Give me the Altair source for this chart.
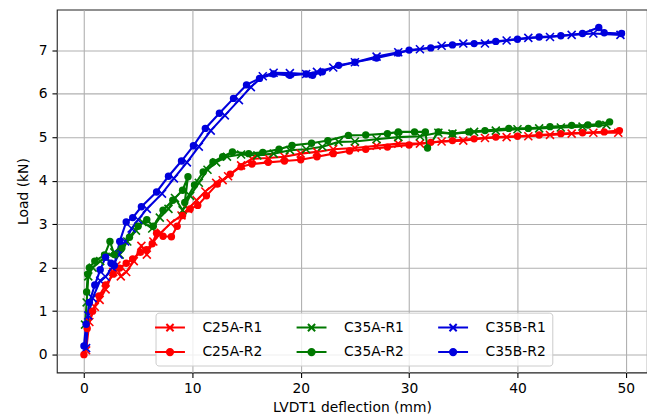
import altair as alt
import pandas as pd

FONT = "DejaVu Sans"

series_names = ["C25A-R1", "C35A-R1", "C35B-R1", "C25A-R2", "C35A-R2", "C35B-R2"]
series_colors = ["#ff0000", "#007800", "#0000dd", "#ff0000", "#007800", "#0000dd"]

x_ticks = [0, 10, 20, 30, 40, 50]
y_ticks = [0, 1, 2, 3, 4, 5, 6, 7]

# ---- data (deflection mm, load kN) ----
c25a_r1_x = [0.2, 0.5, 1.0, 1.45, 2.0, 2.7, 3.0, 3.4, 3.9, 4.6, 5.3, 5.8, 6.4, 7.1, 8.0, 9.0, 9.6,
             10.4, 11.2, 12.2, 12.8, 13.3, 14.5, 15.5, 17.0, 18.5, 20.0, 21.5, 23.0, 25.0, 27.0,
             29.0, 31.0, 33.0, 35.0, 37.0, 39.0, 41.0, 43.0, 45.0, 47.0, 49.3]
c25a_r1_y = [0.1, 0.75, 1.1, 1.26, 1.5, 1.9, 2.05, 1.8, 1.9, 2.15, 2.5, 2.3, 2.6, 2.8, 3.02, 3.2, 3.35,
             3.55, 3.75, 3.95, 4.01, 4.1, 4.35, 4.5, 4.52, 4.55, 4.62, 4.66, 4.72, 4.75, 4.8,
             4.85, 4.85, 4.9, 4.92, 4.98, 5.0, 5.02, 5.05, 5.08, 5.1, 5.1]

c25a_r2_x = [0.0, 0.3, 0.8, 1.4, 2.0, 2.7, 3.3, 3.9, 4.5, 5.2, 5.77, 6.3, 6.7, 7.3, 8.07, 8.6, 9.1,
             9.8, 10.5, 11.3, 12.3, 13.5, 14.5, 15.5, 17.0, 18.5, 20.0, 21.5, 23.0, 24.5, 26.0,
             28.0, 30.0, 32.0, 34.0, 36.0, 38.0, 40.0, 42.0, 44.0, 46.0, 48.0, 49.4]
c25a_r2_y = [0.0, 0.6, 1.0, 1.35, 1.6, 1.85, 1.99, 2.1, 2.2, 2.35, 2.41, 2.55, 2.79, 2.72, 2.71, 2.95, 3.2,
             3.35, 3.43, 3.65, 3.92, 4.15, 4.32, 4.38, 4.42, 4.45, 4.48, 4.55, 4.62, 4.68, 4.72,
             4.77, 4.82, 4.88, 4.92, 4.96, 5.0, 5.02, 5.05, 5.08, 5.1, 5.12, 5.15]

c35a_r1_x = [0.1, 0.25, 0.4, 0.8, 1.5, 2.0, 2.8, 3.3, 4.0, 4.8, 5.4, 6.3, 7.0, 7.8, 8.4, 9.1, 9.8,
             10.6, 11.4, 12.2, 13.2, 14.5, 16.0, 17.5, 19.0, 20.5, 22.0, 23.5, 25.0, 27.0, 29.0,
             31.0, 32.7, 34.0, 36.0, 38.0, 40.0, 42.0, 44.0, 46.0, 48.2]
c35a_r1_y = [0.69, 1.2, 1.8, 2.0, 2.15, 2.25, 2.35, 2.3, 2.6, 2.85, 3.05, 2.9, 3.15, 3.35, 3.6, 3.32, 3.65,
             3.95, 4.25, 4.42, 4.55, 4.6, 4.58, 4.62, 4.7, 4.72, 4.78, 4.89, 4.9, 4.95, 5.0,
             5.02, 5.1, 5.08, 5.12, 5.15, 5.18, 5.2, 5.22, 5.24, 5.28]

c35a_r2_x = [0.25, 0.35, 0.5, 1.0, 1.9, 2.4, 2.8, 3.5, 4.2, 5.0, 5.8, 6.4, 7.3, 8.2, 9.1, 9.6, 9.3,
             10.2, 11.0, 11.9, 12.8, 13.7, 15.2, 16.5, 18.0, 19.2, 21.0, 22.5, 24.4, 26.0, 28.0,
             29.0, 30.5, 31.5, 31.7, 32.7, 34.0, 35.5, 37.0, 39.2, 41.0, 43.0, 45.0, 46.5, 47.5, 48.5]
c35a_r2_y = [1.44, 1.85, 2.0, 2.15, 2.29, 2.6, 2.3, 2.45, 2.7, 2.95, 3.1, 2.95, 3.32, 3.55, 3.78, 4.09, 3.5,
             3.9, 4.2, 4.43, 4.55, 4.66, 4.62, 4.65, 4.72, 4.81, 4.86, 4.92, 5.04, 5.05, 5.08,
             5.12, 5.12, 5.12, 4.75, 5.12, 5.08, 5.12, 5.15, 5.2, 5.2, 5.24, 5.27, 5.28, 5.3, 5.35]

c35b_r1_x = [0.2, 0.4, 0.8, 1.5, 2.0, 2.6, 3.2, 3.8, 4.4, 5.0, 5.8, 7.2, 8.3, 9.5, 10.6, 11.7,
             13.0, 14.3, 15.4, 16.5, 17.5, 19.0, 20.5, 21.5, 23.0, 25.0, 27.0, 29.0, 31.0, 33.0,
             35.0, 37.0, 39.0, 41.0, 43.0, 45.0, 47.0, 49.5]
c35b_r1_y = [0.15, 0.9, 1.3, 1.7, 1.79, 2.0, 2.3, 2.6, 2.9, 3.1, 3.35, 3.7, 4.05, 4.42, 4.78, 5.15,
             5.5, 5.85, 6.15, 6.4, 6.48, 6.47, 6.45, 6.5, 6.6, 6.72, 6.85, 6.95, 7.02, 7.1,
             7.15, 7.15, 7.22, 7.28, 7.3, 7.35, 7.38, 7.35]

c35b_r2_x = [0.0, 0.2, 0.5, 1.0, 1.5, 2.0, 2.5, 2.8, 3.3, 3.9, 4.5, 5.3, 6.7, 7.8, 9.0, 10.1, 11.2,
             12.5, 13.8, 15.0, 16.2, 17.5, 19.0, 20.5, 21.1, 22.0, 23.5, 25.0, 27.0, 29.0, 30.0,
             32.0, 34.0, 36.0, 38.0, 40.0, 42.0, 44.0, 46.0, 47.5, 48.0, 49.6]
c35b_r2_y = [0.2, 0.7, 1.2, 1.6, 1.95, 2.24, 2.1, 2.05, 2.6, 3.05, 3.15, 3.4, 3.74, 4.1, 4.45, 4.8, 5.2,
             5.55, 5.89, 6.2, 6.35, 6.45, 6.42, 6.45, 6.42, 6.5, 6.65, 6.72, 6.82, 6.93, 7.0,
             7.05, 7.12, 7.15, 7.2, 7.25, 7.3, 7.33, 7.38, 7.52, 7.4, 7.38]

series_data = [
    ("C25A-R1", c25a_r1_x, c25a_r1_y),
    ("C25A-R2", c25a_r2_x, c25a_r2_y),
    ("C35A-R1", c35a_r1_x, c35a_r1_y),
    ("C35A-R2", c35a_r2_x, c35a_r2_y),
    ("C35B-R1", c35b_r1_x, c35b_r1_y),
    ("C35B-R2", c35b_r2_x, c35b_r2_y),
]

rows = []
for name, xs, ys in series_data:
    for i, (xv, yv) in enumerate(zip(xs, ys)):
        rows.append({"series": name, "x": xv, "y": yv, "i": i,
                     "kind": "R1" if name.endswith("R1") else "R2"})
df = pd.DataFrame(rows)

# ---- marker glyphs ----
X_MARK = "M-1,-1L1,1M-1,1L1,-1"


def rings(radii):
    return "".join(f"M{r},0A{r},{r} 0 1,1 {-r},0A{r},{r} 0 1,1 {r},0" for r in radii)


LEG_X = "M-2,0L2,0M-0.48,-0.48L0.48,0.48M-0.48,0.48L0.48,-0.48"
LEG_O = "M-2,0L2,0" + rings([0.42, 0.3, 0.18, 0.06])
legend_shapes = [LEG_X, LEG_X, LEG_X, LEG_O, LEG_O, LEG_O]

xscale = alt.Scale(domain=[-2.5, 51.95], nice=False, zero=False)
yscale = alt.Scale(domain=[-0.41, 7.93], nice=False, zero=False)
color_scale = alt.Scale(domain=series_names, range=series_colors)
shape_scale = alt.Scale(domain=series_names, range=legend_shapes)

xaxis = alt.Axis(values=x_ticks, title="LVDT1 deflection (mm)", format="d",
                 labelPadding=4.5, titlePadding=5)
yaxis = alt.Axis(values=y_ticks, title="Load (kN)", format="d",
                 labelPadding=4.9, titlePadding=8)

base = alt.Chart(df).encode(
    x=alt.X("x:Q", scale=xscale, axis=xaxis),
    y=alt.Y("y:Q", scale=yscale, axis=yaxis),
)

leg = alt.Legend(
    title=None, orient="none", legendX=99, legendY=304, columns=3, direction="horizontal",
    symbolSize=225, symbolStrokeWidth=2.0, symbolOpacity=1,
    labelFont=FONT, labelFontSize=13.9, labelColor="#000000", labelOffset=24,
    labelLimit=200, columnPadding=29, rowPadding=8, padding=6,
    fillColor="rgba(255,255,255,0.8)", strokeColor="#cccccc", cornerRadius=3,
)

# invisible carrier of the legend (line + marker glyphs)
legend_layer = base.mark_point(
    filled=False, strokeWidth=2.0, opacity=0
).encode(
    color=alt.Color("series:N", scale=color_scale, legend=leg),
    shape=alt.Shape("series:N", scale=shape_scale, legend=leg),
)

lines = base.mark_line(strokeWidth=2.1).encode(
    color=alt.Color("series:N", scale=color_scale, legend=None),
    detail="series:N",
    order="i:Q",
)

x_points = base.transform_filter(alt.datum.kind == "R1").mark_point(
    shape=X_MARK, filled=False, size=64, strokeWidth=1.6, opacity=1
).encode(color=alt.Color("series:N", scale=color_scale, legend=None))

o_points = base.transform_filter(alt.datum.kind == "R2").mark_circle(
    size=55, opacity=1
).encode(color=alt.Color("series:N", scale=color_scale, legend=None))

chart = alt.layer(legend_layer, lines, x_points, o_points).properties(
    width=592, height=364,
    padding={"left": 49, "top": 1, "right": 0, "bottom": 44},
    autosize=alt.AutoSizeParams(type="none"),
    background="white",
).configure_view(
    stroke="#222222", strokeWidth=1.1
).configure_axis(
    labelFont=FONT, titleFont=FONT, labelFontSize=13.9, titleFontSize=13.9,
    titleFontWeight="normal", labelColor="#000000", titleColor="#000000",
    tickColor="#000000", tickSize=4.9, tickWidth=1.1, domain=False,
    grid=True, gridColor="#b0b0b0", gridWidth=1.1, gridOpacity=1,
)

chart.save("out.html", embed_options={"renderer": "svg", "actions": False})
